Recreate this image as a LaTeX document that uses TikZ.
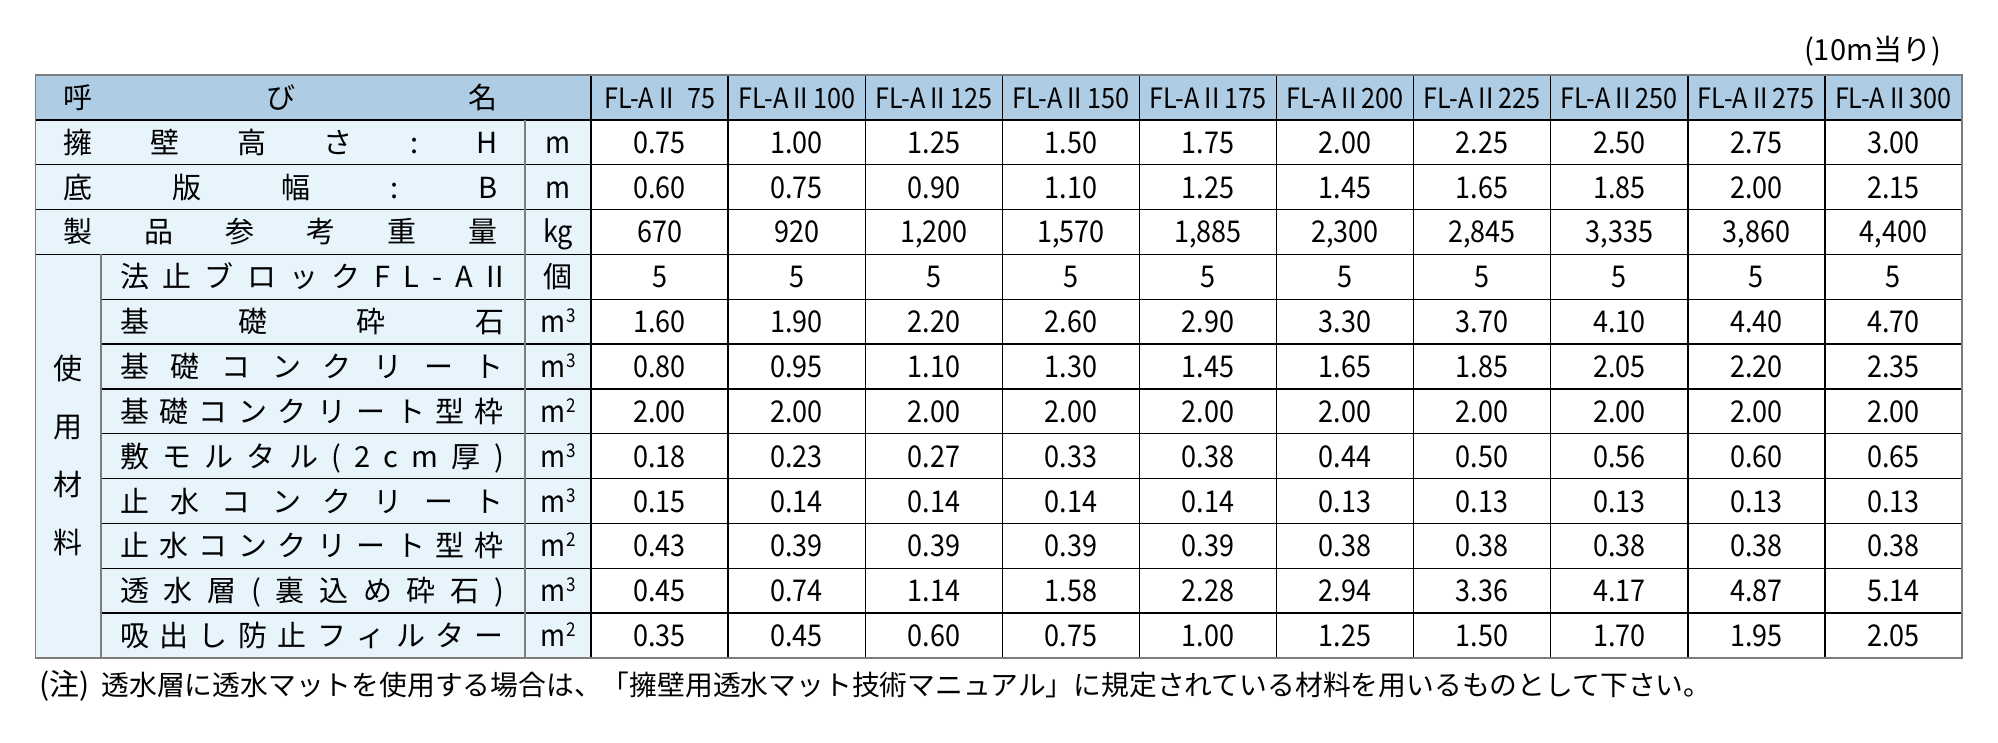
\documentclass[tikz,border=0pt]{standalone}
\usepackage{fontspec}
\setmainfont{Noto Sans CJK JP}
\newfontfamily\numfont[FakeStretch=0.9]{Noto Sans CJK JP}
\definecolor{hdr}{RGB}{174,204,228}
\definecolor{lbl}{RGB}{231,244,252}
\definecolor{rulegray}{RGB}{125,125,125}
\makeatletter
\newcommand\distr[2]{\makebox[#1][s]{\let\dsep\relax\@tfor\dtok:=#2\do{\dsep\dtok\let\dsep\hfill}}}
\makeatother
\newcommand\upsc[1]{\kern1pt\raisebox{10pt}{\fontsize{19}{19}\selectfont #1}}
\newcommand\RY[1]{75+(#1+0.5)*44.846+11}
\newcommand\valrow[2]{\foreach[count=\c] \v in {#2}{\node[val] (v#1-\c) at ({591+(\c-0.5)*137.1},{\RY{#1}}) {\v};}}
\begin{document}
\begin{tikzpicture}[x=1pt,y=-1pt,
  jp/.style={inner sep=0pt,anchor=base,font=\fontsize{29}{29}\selectfont},
  val/.style={inner sep=0pt,anchor=base,font=\numfont\fontsize{30}{30}\selectfont},
  hd/.style={inner sep=0pt,anchor=base,font=\numfont\fontsize{28}{28}\selectfont},
  grid/.style={line width=1.4pt,black},
  soft/.style={line width=1.8pt,rulegray}]
\useasboundingbox (0,0) rectangle (1998,743);
% fills
\fill[hdr] (35.5,75) rectangle (1962,119.85);
\fill[lbl] (35.5,119.85) rectangle (591,658);
% horizontal rules
\foreach \i in {1,2,3,4} \draw[grid] (35.5,{75+\i*44.846}) -- (1962,{75+\i*44.846});
\foreach \i in {5,...,12} \draw[grid] (101,{75+\i*44.846}) -- (1962,{75+\i*44.846});
% vertical rules
\draw[soft] (101,254.38) -- (101,658);
\draw[soft] (525,119.85) -- (525,658);
\foreach \k in {0,...,9} \draw[grid] ({591+\k*137.1},75) -- ({591+\k*137.1},658);
% border
\draw[soft] (35.5,75) rectangle (1962,658);
% labels
\node[jp] (h0) at (280.5,{\RY{0}}) {\distr{435pt}{呼び名}};
\node[jp] (l1) at (280.5,{\RY{1}}) {\distr{434pt}{擁壁高さ:H}};
\node[jp] (l2) at (280.5,{\RY{2}}) {\distr{434pt}{底版幅:B}};
\node[jp] (l3) at (280.5,{\RY{3}}) {\distr{434pt}{製品参考重量}};
\node[jp] (l4) at (312,{\RY{4}}) {\distr{384pt}{法止ブロックFL-A{II}}};
\node[jp] (l5) at (312,{\RY{5}}) {\distr{384pt}{基礎砕石}};
\node[jp] (l6) at (312,{\RY{6}}) {\distr{384pt}{基礎コンクリート}};
\node[jp] (l7) at (312,{\RY{7}}) {\distr{384pt}{基礎コンクリート型枠}};
\node[jp] (l8) at (312,{\RY{8}}) {\distr{384pt}{敷モルタル(2cm厚)}};
\node[jp] (l9) at (312,{\RY{9}}) {\distr{384pt}{止水コンクリート}};
\node[jp] (l10) at (312,{\RY{10}}) {\distr{384pt}{止水コンクリート型枠}};
\node[jp] (l11) at (312,{\RY{11}}) {\distr{384pt}{透水層(裏込め砕石)}};
\node[jp] (l12) at (312,{\RY{12}}) {\distr{384pt}{吸出し防止フィルター}};
% vertical group label
\node[jp] (g1) at (68,379) {使};
\node[jp] (g2) at (68,437) {用};
\node[jp] (g3) at (68,495) {材};
\node[jp] (g4) at (68,553) {料};
% units
\node[val] (u1) at (558,{\RY{1}}) {m};
\node[val] (u2) at (558,{\RY{2}}) {m};
\node[val] (u3) at (558,{\RY{3}}) {kg};
\node[jp] (u4) at (558,{\RY{4}}) {個};
\node[val] (u5) at (558,{\RY{5}}) {m\upsc{3}};
\node[val] (u6) at (558,{\RY{6}}) {m\upsc{3}};
\node[val] (u7) at (558,{\RY{7}}) {m\upsc{2}};
\node[val] (u8) at (558,{\RY{8}}) {m\upsc{3}};
\node[val] (u9) at (558,{\RY{9}}) {m\upsc{3}};
\node[val] (u10) at (558,{\RY{10}}) {m\upsc{2}};
\node[val] (u11) at (558,{\RY{11}}) {m\upsc{3}};
\node[val] (u12) at (558,{\RY{12}}) {m\upsc{2}};
% header
\node[hd] (c1) at ({591+0.5*137.1},{\RY{0}}) {FL-A\kern5pt II\kern13pt 75};
\foreach[count=\c from 2] \n in {100,125,150,175,200,225,250,275,300}
  \node[hd] (c\c) at ({591+(\c-0.5)*137.1},{\RY{0}}) {FL-A\kern5pt II\kern5pt\n};
% values
\valrow{1}{0.75,1.00,1.25,1.50,1.75,2.00,2.25,2.50,2.75,3.00}
\valrow{2}{0.60,0.75,0.90,1.10,1.25,1.45,1.65,1.85,2.00,2.15}
\valrow{3}{670,920,{1,200},{1,570},{1,885},{2,300},{2,845},{3,335},{3,860},{4,400}}
\valrow{4}{5,5,5,5,5,5,5,5,5,5}
\valrow{5}{1.60,1.90,2.20,2.60,2.90,3.30,3.70,4.10,4.40,4.70}
\valrow{6}{0.80,0.95,1.10,1.30,1.45,1.65,1.85,2.05,2.20,2.35}
\valrow{7}{2.00,2.00,2.00,2.00,2.00,2.00,2.00,2.00,2.00,2.00}
\valrow{8}{0.18,0.23,0.27,0.33,0.38,0.44,0.50,0.56,0.60,0.65}
\valrow{9}{0.15,0.14,0.14,0.14,0.14,0.13,0.13,0.13,0.13,0.13}
\valrow{10}{0.43,0.39,0.39,0.39,0.39,0.38,0.38,0.38,0.38,0.38}
\valrow{11}{0.45,0.74,1.14,1.58,2.28,2.94,3.36,4.17,4.87,5.14}
\valrow{12}{0.35,0.45,0.60,0.75,1.00,1.25,1.50,1.70,1.95,2.05}
% captions
\node[inner sep=0pt,anchor=base east,font=\fontsize{29}{29}\selectfont] (unitnote) at (1941,61) {(10m当り)};
\node[inner sep=0pt,anchor=base west,font=\fontsize{27.8}{27.8}\selectfont] (note) at (39,695) {{\fontsize{30}{30}\selectfont(注)}\kern12pt 透水層に透水マットを使用する場合は、「擁壁用透水マット技術マニュアル」に規定されている材料を用いるものとして下さい。};
\end{tikzpicture}
\end{document}
